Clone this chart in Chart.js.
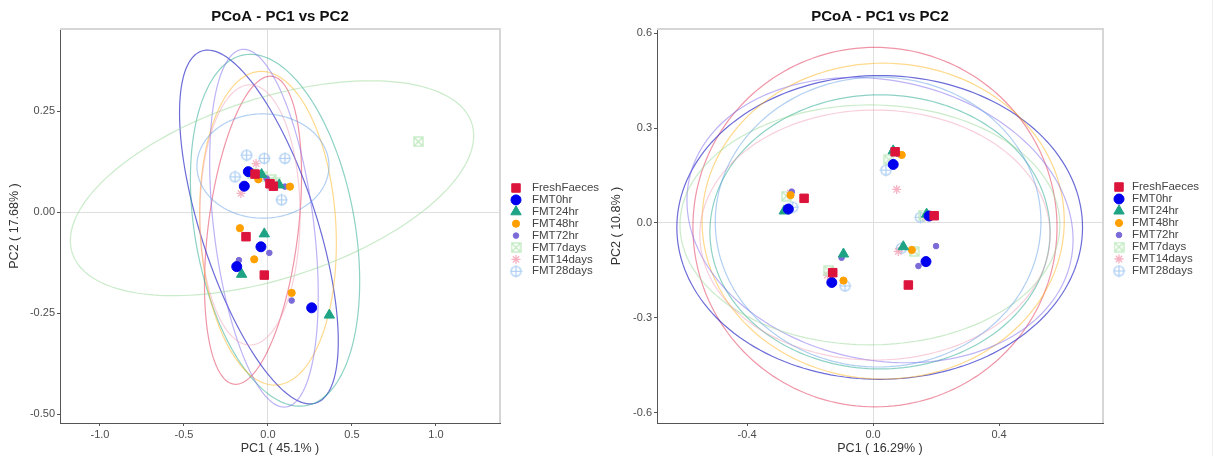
<!DOCTYPE html>
<html>
<head>
<meta charset="utf-8">
<script src="https://cdn.jsdelivr.net/npm/chart.js@4.4.1/dist/chart.umd.min.js"></script>
<style>
  body { margin: 0; background: #fff; }
  #wrap { position: relative; width: 1218px; height: 456px; }
  canvas { position: absolute; top: 0; }
  #leftChart { left: 0; }
  #rightChart { left: 609px; }
  #edge { position: absolute; left: 1212px; top: 0; width: 1px; height: 456px; background: #eeeeee; }
</style>
</head>
<body>
<div id="wrap">
  <canvas id="leftChart" width="609" height="456"></canvas>
  <canvas id="rightChart" width="609" height="456"></canvas>
  <div id="edge"></div>
</div>
<script>
// groups (legend order)
const groups = ['FreshFaeces', 'FMT0hr', 'FMT24hr', 'FMT48hr', 'FMT72hr', 'FMT7days', 'FMT14days', 'FMT28days'];

// left panel: PC1 (45.1%) vs PC2 (17.68%)
const L_FreshFaeces = [[-0.077, 0.094], [0.032, 0.064], [-0.131, -0.061], [-0.022, -0.156], [0.012, 0.070]];
const L_FMT0hr      = [[-0.117, 0.100], [-0.141, 0.064], [-0.042, -0.086], [-0.186, -0.135], [0.260, -0.237]];
const L_FMT24hr     = [[-0.038, 0.093], [0.067, 0.067], [-0.022, -0.054], [-0.157, -0.154], [0.365, -0.255]];
const L_FMT48hr     = [[-0.058, 0.081], [0.131, 0.063], [-0.167, -0.040], [-0.082, -0.117], [0.141, -0.200]];
const L_FMT72hr     = [[-0.008, 0.083], [0.101, 0.063], [0.008, -0.101], [-0.173, -0.119], [0.141, -0.219]];
const L_FMT7days    = [[0.895, 0.174], [-0.095, 0.095], [-0.030, 0.088], [0.045, 0.072], [0.020, 0.080]];
const L_FMT14days   = [[-0.161, 0.046], [-0.071, 0.120], [-0.090, 0.098], [0.050, 0.070], [-0.020, 0.085]];
const L_FMT28days   = [[-0.127, 0.141], [-0.022, 0.133], [0.101, 0.133], [-0.196, 0.087], [0.081, 0.030]];

// right panel: PC1 (16.29%) vs PC2 (10.8%)
const R_FreshFaeces = [[-0.219, 0.078], [0.070, 0.225], [0.194, 0.023], [0.112, -0.196], [-0.128, -0.157]];
const R_FMT0hr      = [[-0.269, 0.044], [0.064, 0.185], [0.178, 0.022], [0.168, -0.122], [-0.131, -0.188]];
const R_FMT24hr     = [[-0.282, 0.038], [0.064, 0.228], [0.170, 0.028], [0.096, -0.075], [-0.094, -0.098]];
const R_FMT48hr     = [[-0.262, 0.088], [0.091, 0.215], [0.182, 0.020], [0.123, -0.085], [-0.094, -0.182]];
const R_FMT72hr     = [[-0.258, 0.099], [0.080, 0.218], [0.200, -0.073], [0.144, -0.136], [-0.100, -0.110]];
const R_FMT7days    = [[-0.275, 0.085], [0.050, 0.200], [0.160, 0.025], [0.130, -0.090], [-0.140, -0.150]];
const R_FMT14days   = [[-0.262, 0.095], [0.075, 0.106], [0.165, 0.018], [0.080, -0.090], [-0.145, -0.165]];
const R_FMT28days   = [[-0.255, 0.050], [0.041, 0.167], [0.150, 0.018], [0.090, -0.080], [-0.089, -0.199]];

// confidence ellipses: [centre x, centre y, axis1 x, axis1 y, axis2 x, axis2 y] in data units
const leftEllipses = [
  [-0.089, -0.045, 0.1125, 0.381, 0.266, -0.0136],
  [-0.054, -0.037, -0.340, 0.4355, 0.328, 0.0444],
  [0.042, -0.045, -0.184, 0.434, 0.469, 0.0345],
  [0.000, -0.040, -0.0486, 0.388, 0.404, 0.0088],
  [-0.024, -0.040, -0.1307, 0.4424, 0.2955, 0.0151],
  [0.024, 0.059, 1.189, 0.1606, -0.1655, 0.2119],
  [-0.107, -0.007, 0, 0.322, 0.298, 0],
  [-0.030, 0.114, 0.393, 0, 0, 0.129]
];
const rightEllipses = [
  [0.006, -0.013, 0.578, 0, 0, 0.568],
  [0.021, -0.014, 0.644, 0, 0, 0.480],
  [0.022, -0.028, 0.540, 0, 0, 0.433],
  [0.032, 0.006, 0.575, 0, 0, 0.499],
  [0.022, 0.009, 0.606, -0.128, 0.092, 0.432],
  [-0.010, -0.006, 0.603, 0, 0, 0.379],
  [0.006, -0.038, 0.556, 0, 0, 0.395],
  [0.016, 0.003, 0.517, 0, 0, 0.458]
];

// axis ranges and ticks
const leftXRange = [-1.238, 1.381];
const leftYRange = [-0.522, 0.453];
const leftXTicks = [-1.0, -0.5, 0, 0.5, 1.0];
const leftYTicks = [-0.5, -0.25, 0, 0.25];
const rightXRange = [-0.686, 0.730];
const rightYRange = [-0.632, 0.613];
const rightXTicks = [-0.4, 0, 0.4];
const rightYTicks = [-0.6, -0.3, 0, 0.3, 0.6];

Chart.defaults.font.family = '"Liberation Sans", Arial, sans-serif';

// ggplot style open shapes (circle-plus, square-cross)
function circlePlus(color) {
  const c = document.createElement('canvas');
  c.width = 13; c.height = 13;
  const g = c.getContext('2d');
  g.strokeStyle = color; g.lineWidth = 1.2;
  g.beginPath();
  g.arc(6.5, 6.5, 5, 0, Math.PI * 2);
  g.moveTo(6.5, 0.5); g.lineTo(6.5, 12.5);
  g.moveTo(0.5, 6.5); g.lineTo(12.5, 6.5);
  g.stroke();
  return c;
}
function squareCross(color) {
  const c = document.createElement('canvas');
  c.width = 11; c.height = 11;
  const g = c.getContext('2d');
  g.strokeStyle = color; g.lineWidth = 1.2;
  g.strokeRect(1, 1, 9, 9);
  g.beginPath();
  g.moveTo(1, 1); g.lineTo(10, 10);
  g.moveTo(10, 1); g.lineTo(1, 10);
  g.stroke();
  return c;
}

const styles = [
  { color: '#DC143C', pointStyle: 'rect', radius: 6, ell: 'rgba(220,20,60,0.45)' },
  { color: '#0000EE', pointStyle: 'circle', radius: 5, ell: 'rgba(45,45,200,0.7)' },
  { color: '#1FA385', pointStyle: 'triangle', radius: 6, ell: 'rgba(30,165,140,0.5)' },
  { color: '#FFA000', pointStyle: 'circle', radius: 3.6, ell: 'rgba(255,170,0,0.45)' },
  { color: '#7A6BD8', pointStyle: 'circle', radius: 2.8, ell: 'rgba(123,104,238,0.5)' },
  { color: '#BDE8BD', pointStyle: squareCross('#BDE8BD'), radius: 5, ell: 'rgba(150,215,150,0.5)' },
  { color: '#F5B3C3', pointStyle: 'star', radius: 4.5, ell: 'rgba(240,150,175,0.45)' },
  { color: '#A9CCF2', pointStyle: circlePlus('#A9CCF2'), radius: 6, ell: 'rgba(100,160,230,0.5)' }
];

function makeDatasets(sets) {
  return sets.map((pts, i) => ({
    label: groups[i],
    data: pts.map(p => ({ x: p[0], y: p[1] })),
    pointStyle: styles[i].pointStyle,
    pointRadius: styles[i].radius,
    pointBackgroundColor: styles[i].color,
    pointBorderColor: styles[i].color,
    pointBorderWidth: (i === 6) ? 1.3 : 1,
    showLine: false
  }));
}

const ellipsePlugin = {
  id: 'ellipses',
  beforeDatasetsDraw(chart, args, opts) {
    const { ctx, chartArea, scales } = chart;
    ctx.save();
    ctx.beginPath();
    ctx.rect(chartArea.left, chartArea.top, chartArea.right - chartArea.left, chartArea.bottom - chartArea.top);
    ctx.clip();
    opts.list.forEach((e, i) => {
      ctx.beginPath();
      for (let k = 0; k <= 180; k++) {
        const t = k / 180 * Math.PI * 2;
        const px = scales.x.getPixelForValue(e[0] + e[2] * Math.cos(t) + e[4] * Math.sin(t));
        const py = scales.y.getPixelForValue(e[1] + e[3] * Math.cos(t) + e[5] * Math.sin(t));
        if (k === 0) ctx.moveTo(px, py); else ctx.lineTo(px, py);
      }
      ctx.strokeStyle = styles[i].ell;
      ctx.lineWidth = 1.2;
      ctx.stroke();
    });
    ctx.restore();
  }
};

// light top/right panel border
const framePlugin = {
  id: 'frame',
  beforeDatasetsDraw(chart) {
    const { ctx, chartArea: a } = chart;
    ctx.save();
    ctx.strokeStyle = '#d6d6d6';
    ctx.lineWidth = 2;
    ctx.beginPath();
    ctx.moveTo(a.left, a.top);
    ctx.lineTo(a.right, a.top);
    ctx.lineTo(a.right, a.bottom);
    ctx.stroke();
    ctx.restore();
  }
};

const groupLegend = {
  id: 'groupLegend',
  afterDraw(chart, args, opts) {
    const ctx = chart.ctx;
    ctx.save();
    chart.data.datasets.forEach((ds, i) => {
      const y = opts.y0 + i * opts.dy;
      ctx.fillStyle = styles[i].color;
      ctx.strokeStyle = styles[i].color;
      ctx.lineWidth = ds.pointBorderWidth;
      Chart.helpers.drawPoint(ctx, {
        pointStyle: styles[i].pointStyle,
        radius: styles[i].radius,
        rotation: 0,
        borderWidth: ds.pointBorderWidth
      }, opts.markerX, y);
      ctx.fillStyle = '#444';
      ctx.font = '11.5px "Liberation Sans", Arial, sans-serif';
      ctx.textBaseline = 'middle';
      ctx.textAlign = 'left';
      ctx.fillText(ds.label, opts.textX, y);
    });
    ctx.restore();
  }
};

function axis(range, ticks, digits, title, isX, fitSize) {
  return {
    type: 'linear',
    min: range[0],
    max: range[1],
    afterBuildTicks: s => { s.ticks = ticks.map(v => ({ value: v })); },
    afterFit: s => { if (isX) s.height = fitSize; else s.width = fitSize; },
    ticks: {
      callback: v => v.toFixed(digits),
      font: { size: 11 },
      color: '#4d4d4d',
      padding: 2,
      autoSkip: false,
      maxRotation: 0
    },
    grid: {
      color: c => (c.tick && c.tick.value === 0) ? '#dedede' : 'rgba(0,0,0,0)',
      tickColor: '#555',
      tickLength: 3,
      lineWidth: 1
    },
    border: { color: '#555', width: 1 },
    title: {
      display: true,
      text: title,
      font: { size: 12.5 },
      color: '#333',
      padding: isX ? { top: 0, bottom: 0 } : { top: fitSize > 50 ? 7 : 0, bottom: 0 }
    }
  };
}

function makeChart(id, sets, ellipses, xr, yr, xt, yt, yDigits, xTitle, yTitle, yWidth, padRight, legendPos) {
  return new Chart(document.getElementById(id), {
    type: 'scatter',
    data: { datasets: makeDatasets(sets) },
    options: {
      responsive: false,
      animation: false,
      layout: { padding: { left: 0, right: padRight, top: 0, bottom: 0 } },
      plugins: {
        legend: { display: false },
        tooltip: { enabled: false },
        title: {
          display: true,
          text: 'PCoA - PC1 vs PC2',
          fullSize: false,
          font: { size: 15, weight: 'bold' },
          color: '#111',
          padding: { top: 8, bottom: 3 }
        },
        ellipses: { list: ellipses },
        groupLegend: legendPos
      },
      scales: {
        x: axis(xr, xt, 1, xTitle, true, 33),
        y: axis(yr, yt, yDigits, yTitle, false, yWidth)
      }
    },
    plugins: [framePlugin, ellipsePlugin, groupLegend]
  });
}

makeChart('leftChart',
  [L_FreshFaeces, L_FMT0hr, L_FMT24hr, L_FMT48hr, L_FMT72hr, L_FMT7days, L_FMT14days, L_FMT28days],
  leftEllipses, leftXRange, leftYRange, leftXTicks, leftYTicks, 2,
  'PC1 ( 45.1% )', 'PC2 ( 17.68% )', 60, 109,
  { markerX: 516, textX: 532, y0: 188, dy: 11.9 });

makeChart('rightChart',
  [R_FreshFaeces, R_FMT0hr, R_FMT24hr, R_FMT48hr, R_FMT72hr, R_FMT7days, R_FMT14days, R_FMT28days],
  rightEllipses, rightXRange, rightYRange, rightXTicks, rightYTicks, 1,
  'PC1 ( 16.29% )', 'PC2 ( 10.8% )', 48, 115,
  { markerX: 510, textX: 523, y0: 187, dy: 12 });
</script>
</body>
</html>
